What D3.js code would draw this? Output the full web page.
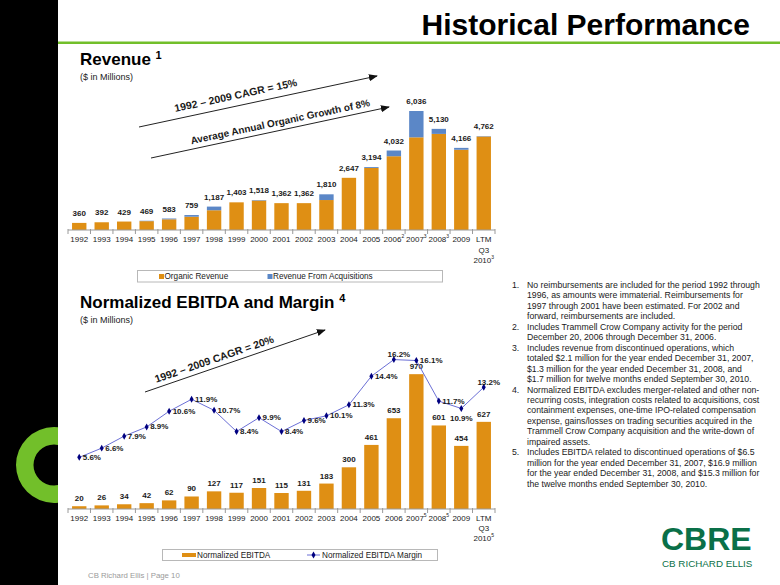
<!DOCTYPE html>
<html><head><meta charset="utf-8">
<script src="https://cdn.jsdelivr.net/npm/d3@7"></script>
<style>
body{margin:0;background:#fff}
svg{display:block;font-family:"Liberation Sans",Arial,Helvetica,sans-serif}
</style>
</head><body>
<svg id="c" width="780" height="585"></svg>
<script>
// ---------- data ----------
const categories = ["1992","1993","1994","1995","1996","1997","1998","1999","2000","2001","2002","2003","2004","2005","2006","2007","2008","2009","LTM Q3 2010"];
const revenueNotes = ["","","","","","","","","","","","","","","2","3","3","","3"];
const ebitdaNotes  = ["","","","","","","","","","","","","","","","5","5","","5"];
const organicRevenue     = [360,392,429,449,543,674,1002,1403,1493,1362,1362,1520,2647,3149,3742,4701,4875,4071,4742];
const acquisitionRevenue = [0,0,0,20,40,85,185,0,25,0,0,290,0,45,290,1335,255,95,20];
const ebitda       = [20,26,34,42,62,90,127,117,151,115,131,183,300,461,653,970,601,454,627];
const ebitdaMargin = [5.6,6.6,7.9,8.9,10.6,11.9,10.7,8.4,9.9,8.4,9.6,10.1,11.3,14.4,16.2,16.1,11.7,10.9,13.2];
const marginLabelPlacement = ["r","r","r","r","r","r","r","r","r","r","r","r","r","r","t","r","r","b","t"];
const revenueSeries = ["Organic Revenue","Revenue From Acquisitions"];
const ebitdaSeries = ["Normalized EBITDA","Normalized EBITDA Margin"];
const footnotes = [
 ["No reimbursements are included for the period 1992 through","1996, as amounts were immaterial. Reimbursements for","1997 through 2001 have been estimated. For 2002 and","forward, reimbursements are included."],
 ["Includes Trammell Crow Company activity for the period","December 20, 2006 through December 31, 2006."],
 ["Includes revenue from discontinued operations, which","totaled $2.1 million for the year ended December 31, 2007,","$1.3 million for the year ended December 31, 2008, and","$1.7 million for twelve months ended September 30, 2010."],
 ["Normalized EBITDA excludes merger-related and other non-","recurring costs, integration costs related to acquisitions, cost","containment expenses, one-time IPO-related compensation","expense, gains/losses on trading securities acquired in the","Trammell Crow Company acquisition and the write-down of","impaired assets."],
 ["Includes EBITDA related to discontinued operations of $6.5","million for the year ended December 31, 2007, $16.9 million","for the year ended December 31, 2008, and $15.3 million for","the twelve months ended September 30, 2010."]
];

// ---------- style ----------
const ORANGE = "#df8f14", BLUE = "#5b87c7", LINE = "#6b6fd6", MARK = "#000080";
const GREEN = "#72bf2a", DKGREEN = "#0a7048", TXT = "#1a1a1a", AXIS = "#9a9a9a";

const svg = d3.select("#c");
const defs = svg.append("defs");

// page frame
svg.append("rect").attr("x",0).attr("y",0).attr("width",58).attr("height",585).attr("fill","#000");
defs.append("clipPath").attr("id","strip").append("rect").attr("x",0).attr("y",0).attr("width",58).attr("height",585);
svg.append("g").attr("clip-path","url(#strip)")
  .append("path").attr("fill",GREEN)
  .attr("d", d3.arc()({innerRadius:20.5, outerRadius:38, startAngle:0, endAngle:2*Math.PI}))
  .attr("transform","translate(54,465)");
svg.append("rect").attr("x",58).attr("y",41.5).attr("width",722).attr("height",2.5).attr("fill",GREEN);
svg.append("text").attr("x",750).attr("y",35).attr("text-anchor","end").attr("font-size",30).attr("font-weight","bold").attr("fill","#000").text("Historical Performance");

function title(y, main, note){
  const t = svg.append("text").attr("x",80).attr("y",y).attr("font-size",17).attr("font-weight","bold").attr("fill","#000");
  t.append("tspan").text(main+" ");
  t.append("tspan").attr("font-size",11).attr("dy",-6).text(note);
  svg.append("text").attr("x",80).attr("y",y+15).attr("font-size",9).attr("fill",TXT).text("($ in Millions)");
}
title(65,"Revenue","1");
title(308,"Normalized EBITDA and Margin","4");

// ---------- shared x ----------
const x = d3.scaleBand().domain(categories).range([68,495]).paddingInner(0.36).paddingOuter(0.18);
const step = x.step();

function xAxis(y0, notes, lineGap){
  const g = svg.append("g");
  g.append("line").attr("x1",68).attr("x2",68+step*categories.length).attr("y1",y0).attr("y2",y0).attr("stroke",AXIS).attr("stroke-width",1);
  d3.range(categories.length+1).forEach(i=>{
    g.append("line").attr("x1",68+i*step).attr("x2",68+i*step).attr("y1",y0-1).attr("y2",y0+4).attr("stroke",AXIS);
  });
  categories.forEach((c,i)=>{
    const lines = c.split(" ");
    const cx = x(c)+x.bandwidth()/2;
    lines.forEach((ln,j)=>{
      const t = g.append("text").attr("x",cx).attr("y",y0+12+j*lineGap).attr("text-anchor","middle").attr("font-size",8).attr("fill",TXT);
      t.append("tspan").text(ln);
      if (j===lines.length-1 && notes[i]) t.append("tspan").attr("font-size",5).attr("dy",-4).text(notes[i]);
    });
  });
}

// ---------- revenue chart ----------
const yR = d3.scaleLinear().domain([0,7000]).range([230,92]);
const revStack = d3.stack().keys([0,1]).value((d,k)=>d[k])(categories.map((c,i)=>[organicRevenue[i],acquisitionRevenue[i]]));
const revColors = [ORANGE, BLUE];
revStack.forEach((layer,k)=>{
  svg.append("g").selectAll("rect").data(layer).join("rect")
    .attr("x",(d,i)=>x(categories[i])).attr("width",x.bandwidth())
    .attr("y",d=>yR(d[1])).attr("height",d=>yR(d[0])-yR(d[1]))
    .attr("fill",revColors[k]);
});
const fmt = d3.format(",");
svg.append("g").selectAll("text").data(categories).join("text")
  .attr("x",c=>x(c)+x.bandwidth()/2).attr("y",(c,i)=>yR(organicRevenue[i]+acquisitionRevenue[i])-7)
  .attr("text-anchor","middle").attr("font-size",8).attr("font-weight","bold").attr("fill",TXT)
  .text((c,i)=>fmt(organicRevenue[i]+acquisitionRevenue[i]));
xAxis(230, revenueNotes, 10.5);

// legend top
const lg1 = svg.append("g");
lg1.append("rect").attr("x",137.5).attr("y",270.5).attr("width",305).attr("height",11.5).attr("fill","#fff").attr("stroke","#b8b8b8");
[[159,revenueSeries[0],ORANGE],[267.5,revenueSeries[1],BLUE]].forEach(([lx,name,col])=>{
  lg1.append("rect").attr("x",lx).attr("y",274).attr("width",5).attr("height",5).attr("fill",col);
  lg1.append("text").attr("x",lx+5.5).attr("y",279.3).attr("font-size",8.2).attr("fill",TXT).text(name);
});

// arrows
defs.append("marker").attr("id","ah").attr("viewBox","0 0 10 10").attr("refX",9).attr("refY",5)
  .attr("markerWidth",9).attr("markerHeight",9).attr("markerUnits","userSpaceOnUse").attr("orient","auto")
  .append("path").attr("d","M0,1 L10,5 L0,9 Z").attr("fill","#111");
function arrow(x1,y1,x2,y2,label,fs,tx,off){
  svg.append("line").attr("x1",x1).attr("y1",y1).attr("x2",x2).attr("y2",y2).attr("stroke","#222").attr("stroke-width",1).attr("marker-end","url(#ah)");
  const ang = Math.atan2(y2-y1,x2-x1);
  const ty = y1 + (tx-x1)*Math.tan(ang);
  svg.append("text").attr("transform",`translate(${tx+off*Math.sin(ang)},${ty-off*Math.cos(ang)}) rotate(${ang*180/Math.PI})`)
    .attr("text-anchor","middle").attr("font-size",fs).attr("font-weight","bold").attr("fill",TXT).text(label);
}
arrow(139,127,377,76,"1992 \u2013 2009 CAGR = 15%",10.5,238,7);
arrow(151,158,389,107,"Average Annual Organic Growth of 8%",10,282,5);
arrow(145,392,325,330,"1992 \u2013 2009 CAGR = 20%",10.5,217,5);

// ---------- EBITDA chart ----------
const yE = d3.scaleLinear().domain([0,1000]).range([509,370]);
const yM = d3.scaleLinear().domain([0,18]).range([509,343]);
svg.append("g").selectAll("rect").data(ebitda).join("rect")
  .attr("x",(d,i)=>x(categories[i])).attr("width",x.bandwidth())
  .attr("y",d=>yE(d)).attr("height",d=>yE(0)-yE(d)).attr("fill",ORANGE);
svg.append("g").selectAll("text").data(ebitda).join("text")
  .attr("x",(d,i)=>x(categories[i])+x.bandwidth()/2).attr("y",d=>yE(d)-5)
  .attr("text-anchor","middle").attr("font-size",8).attr("font-weight","bold").attr("fill",TXT)
  .text(d=>d);
xAxis(509, ebitdaNotes, 10);

const cxs = (i)=>x(categories[i])+x.bandwidth()/2;
svg.append("path").datum(ebitdaMargin)
  .attr("d",d3.line().x((d,i)=>cxs(i)).y(d=>yM(d)))
  .attr("fill","none").attr("stroke",LINE).attr("stroke-width",1);
svg.append("g").selectAll("path").data(ebitdaMargin).join("path")
  .attr("d",d3.symbol(d3.symbolDiamond,14))
  .attr("transform",(d,i)=>`translate(${cxs(i)},${yM(d)})`).attr("fill",MARK);
svg.append("g").selectAll("text").data(ebitdaMargin).join("text")
  .each(function(d,i){
    const p = marginLabelPlacement[i], px = cxs(i), py = yM(d);
    const t = d3.select(this);
    if (p==="r") t.attr("x",px+3.5).attr("y",py+2.5).attr("text-anchor","start");
    else if (p==="t") t.attr("x",px+5).attr("y",py-2.5).attr("text-anchor","middle");
    else t.attr("x",px).attr("y",py+13).attr("text-anchor","middle");
  })
  .attr("font-size",8).attr("font-weight","bold").attr("fill",TXT)
  .text(d=>d.toFixed(1)+"%");

// legend bottom
const lg2 = svg.append("g");
lg2.append("rect").attr("x",162.5).attr("y",549.5).attr("width",275).attr("height",11).attr("fill","#fff").attr("stroke","#b8b8b8");
lg2.append("rect").attr("x",182).attr("y",553).attr("width",14).attr("height",4).attr("fill",ORANGE);
lg2.append("text").attr("x",197).attr("y",557.8).attr("font-size",8.2).attr("fill",TXT).text(ebitdaSeries[0]);
lg2.append("line").attr("x1",307).attr("x2",320).attr("y1",555).attr("y2",555).attr("stroke",LINE);
lg2.append("path").attr("d",d3.symbol(d3.symbolDiamond,14)).attr("transform","translate(313.5,555)").attr("fill",MARK);
lg2.append("text").attr("x",322).attr("y",557.8).attr("font-size",8.2).attr("fill",TXT).text(ebitdaSeries[1]);

// ---------- footnotes ----------
const fn = svg.append("g").attr("font-size",8.7).attr("fill",TXT);
let row = 0;
footnotes.forEach((lines,k)=>{
  fn.append("text").attr("x",512).attr("y",288+row*10.45).text((k+1)+".");
  lines.forEach(l=>{ fn.append("text").attr("x",527).attr("y",288+row*10.45).text(l); row++; });
});

// ---------- logo & footer ----------
svg.append("text").attr("x",661).attr("y",549.5).attr("font-size",32).attr("font-weight","bold").attr("fill",DKGREEN).text("CBRE");
svg.append("text").attr("x",662).attr("y",566.5).attr("font-size",9.8).attr("fill",DKGREEN).text("CB RICHARD ELLIS");
svg.append("text").attr("x",88).attr("y",578).attr("font-size",7.8).attr("fill","#9a9a9a").text("CB Richard Ellis  |  Page 10");
</script>
</body></html>
